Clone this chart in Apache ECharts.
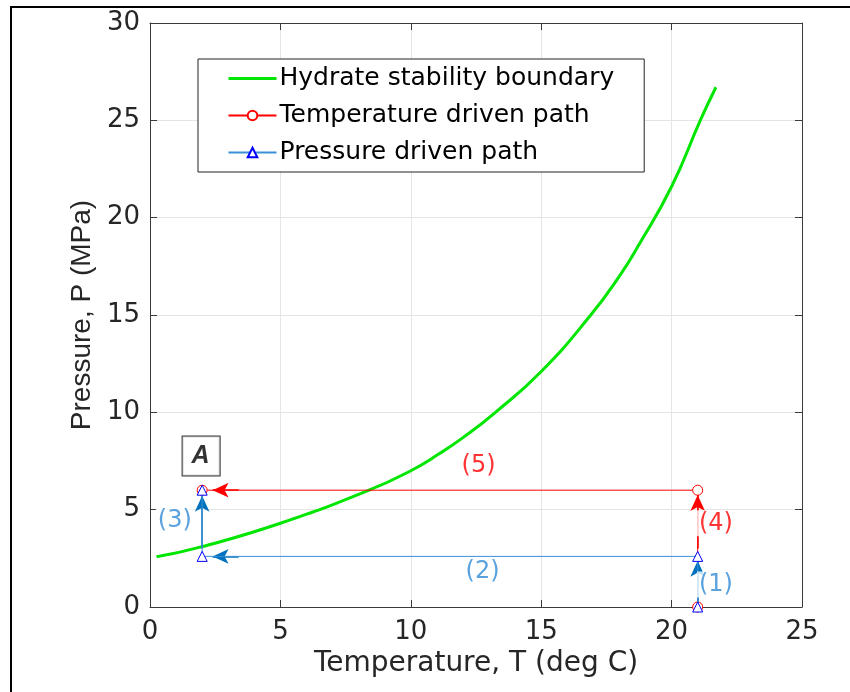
<!DOCTYPE html>
<html>
<head>
<meta charset="utf-8">
<script src="https://cdn.jsdelivr.net/npm/echarts@6/dist/echarts.min.js"></script>
<style>
html,body{margin:0;padding:0;background:#fff;}
#chart{width:850px;height:692px;}
</style>
</head>
<body>
<div id="chart"></div>
<script>
// ---- data ----
const seriesNames = ['Hydrate stability boundary', 'Temperature driven path', 'Pressure driven path'];
const xTicks = [0, 5, 10, 15, 20, 25];
const yTicks = [0, 5, 10, 15, 20, 25, 30];

const boundaryT = [0.25, 2, 5, 8.4, 10, 11.1, 12, 13.2, 15, 16.9, 18, 18.7, 20, 21.1, 21.7];
const boundaryP = [2.58, 3.1, 4.3, 6.0, 7.0, 7.88, 8.7, 9.95, 12.1, 15.0, 17.0, 18.5, 21.6, 25.0, 26.7];

const tempPathT = [21, 21, 2];
const tempPathP = [0, 6, 6];

const pressPathT = [21, 21, 2, 2];
const pressPathP = [0, 2.6, 2.6, 6];

// arrows: start (T,P) -> end (T,P)
const pressArrowFromT = [21, 3.4, 2];
const pressArrowFromP = [0.2, 2.6, 3.0];
const pressArrowToT = [21, 2.4, 2];
const pressArrowToP = [2.38, 2.6, 5.72];

const tempArrowFromT = [21, 3.4];
const tempArrowFromP = [3.0, 6];
const tempArrowToT = [21, 2.4];
const tempArrowToP = [5.75, 6];

// annotation labels
const pressLabels = ['(1)', '(2)', '(3)'];
const pressLabelT = [21.7, 12.75, 0.95];
const pressLabelP = [1.15, 1.8, 4.45];

const tempLabels = ['(4)', '(5)'];
const tempLabelT = [21.7, 12.6];
const tempLabelP = [4.3, 7.25];

const pointLabel = ['A'];
const pointLabelT = [1.96];
const pointLabelP = [7.76];

// ---- build ----
const zip = (a, b) => a.map((v, i) => [v, b[i]]);
const arrows = (ft, fp, tt, tp) => ft.map((v, i) => [{coord: [v, fp[i]]}, {coord: [tt[i], tp[i]]}]);
const labelData = (txt, t, p) => txt.map((s, i) => ({value: [t[i], p[i]], name: s}));

const FONT = '"Liberation Sans", Arial, Helvetica, sans-serif';
const WFONT = '"DejaVu Sans", "Liberation Sans", Arial, sans-serif';
const AXIS_COLOR = '#3a3a3a';
const GRID_COLOR = '#e4e4e4';
const BLUE_LINE = '#3a8fd8';
const BLUE_ARROW = '#0072BD';
const BLUE_TEXT = '#2f8bd6';
const RED = '#ff0000';
const GREEN = '#00e600';

const chart = echarts.init(document.getElementById('chart'), null, {renderer: 'canvas'});

const baseX = {
  type: 'value', min: 0, max: 25, interval: 5,
  axisLine: {show: true, onZero: false, lineStyle: {color: AXIS_COLOR, width: 1}},
  axisTick: {show: true, inside: true, length: 7, lineStyle: {color: AXIS_COLOR}},
};
const baseY = {
  type: 'value', min: 0, max: 30, interval: 5,
  axisLine: {show: true, onZero: false, lineStyle: {color: AXIS_COLOR, width: 1}},
  axisTick: {show: true, inside: true, length: 7, lineStyle: {color: AXIS_COLOR}},
};

const labelSeries = (name, data, color, extra) => ({
  name: name, type: 'scatter', data: data, symbolSize: 0, silent: true, z: 10,
  label: Object.assign({
    show: true, position: 'inside', formatter: '{b}', color: color,
    fontSize: 24, fontFamily: WFONT, backgroundColor: '#fff', padding: [1, 2]
  }, extra || {})
});

chart.setOption({
  animation: false,
  backgroundColor: '#fff',
  textStyle: {fontFamily: FONT},
  grid: {left: 150, right: 48, top: 23, bottom: 85, containLabel: false},
  graphic: [{
    type: 'rect', silent: true, z: 100,
    shape: {x: 11, y: 7, width: 1000, height: 1000},
    style: {fill: 'none', stroke: '#000', lineWidth: 2}
  }],
  legend: {
    data: [
      {name: seriesNames[0],
       itemStyle: {color: 'rgba(0,0,0,0)', borderColor: 'rgba(0,0,0,0)', borderWidth: 0},
       lineStyle: {color: GREEN, width: 3}},
      {name: seriesNames[1]},
      {name: seriesNames[2]}
    ],
    orient: 'vertical',
    left: 198, top: 59,
    padding: [7, 30, 7, 29],
    itemGap: 12,
    itemWidth: 48, itemHeight: 12,
    backgroundColor: '#fff',
    borderColor: '#222', borderWidth: 1,
    textStyle: {fontSize: 25, color: '#000', fontFamily: WFONT, padding: [0, 0, 0, -2]},
    selectedMode: false
  },
  xAxis: [
    Object.assign({}, baseX, {
      position: 'bottom',
      axisLabel: {show: true, fontSize: 26, color: '#262626', margin: 12, fontFamily: WFONT,
        formatter: v => xTicks.includes(v) ? String(v) : ''},
      splitLine: {show: true, lineStyle: {color: GRID_COLOR, width: 1}},
      name: 'Temperature, T (deg C)', nameLocation: 'middle', nameGap: 42,
      nameTextStyle: {fontSize: 28, color: '#262626', fontFamily: WFONT}
    }),
    Object.assign({}, baseX, {
      position: 'top', axisLabel: {show: false}, splitLine: {show: false}
    })
  ],
  yAxis: [
    Object.assign({}, baseY, {
      position: 'left',
      axisLabel: {show: true, fontSize: 26, color: '#262626', margin: 10, fontFamily: WFONT,
        formatter: v => yTicks.includes(v) ? String(v) : ''},
      splitLine: {show: true, lineStyle: {color: GRID_COLOR, width: 1}},
      name: 'Pressure, P (MPa)', nameLocation: 'middle', nameGap: 54, nameRotate: 90,
      nameTextStyle: {fontSize: 28, color: '#262626', fontFamily: FONT}
    }),
    Object.assign({}, baseY, {
      position: 'right', axisLabel: {show: false}, splitLine: {show: false}
    })
  ],
  series: [
    {
      name: seriesNames[0], type: 'line', data: zip(boundaryT, boundaryP),
      smooth: 0.5, symbol: 'none',
      lineStyle: {color: GREEN, width: 3}, itemStyle: {color: GREEN},
      z: 3
    },
    {
      name: seriesNames[1], type: 'line', data: zip(tempPathT, tempPathP),
      symbol: 'circle', symbolSize: 10, showSymbol: true,
      lineStyle: {color: RED, width: 1},
      itemStyle: {color: '#fff', borderColor: RED, borderWidth: 1},
      z: 4,
      markLine: {
        silent: true, animation: false,
        symbol: ['none', 'arrow'], symbolSize: [11, 16],
        label: {show: false},
        lineStyle: {color: RED, width: 1.5, type: 'solid'},
        data: arrows(tempArrowFromT, tempArrowFromP, tempArrowToT, tempArrowToP)
      }
    },
    {
      name: seriesNames[2], type: 'line', data: zip(pressPathT, pressPathP),
      symbol: 'triangle', symbolSize: 10, showSymbol: true,
      lineStyle: {color: BLUE_LINE, width: 1},
      itemStyle: {color: '#fff', borderColor: '#0000ff', borderWidth: 1},
      z: 5,
      markLine: {
        silent: true, animation: false,
        symbol: ['none', 'arrow'], symbolSize: [11, 16],
        label: {show: false},
        lineStyle: {color: BLUE_ARROW, width: 1.5, type: 'solid'},
        data: arrows(pressArrowFromT, pressArrowFromP, pressArrowToT, pressArrowToP)
      }
    },
    labelSeries('pressLabels', labelData(pressLabels, pressLabelT, pressLabelP), BLUE_TEXT),
    labelSeries('tempLabels', labelData(tempLabels, tempLabelT, tempLabelP), RED),
    labelSeries('pointLabel', labelData(pointLabel, pointLabelT, pointLabelP), '#000', {
      fontWeight: 'bold', fontStyle: 'italic', fontSize: 25, fontFamily: FONT,
      borderColor: '#000', borderWidth: 1, padding: [8, 10, 6, 9]
    })
  ]
});
</script>
</body>
</html>
